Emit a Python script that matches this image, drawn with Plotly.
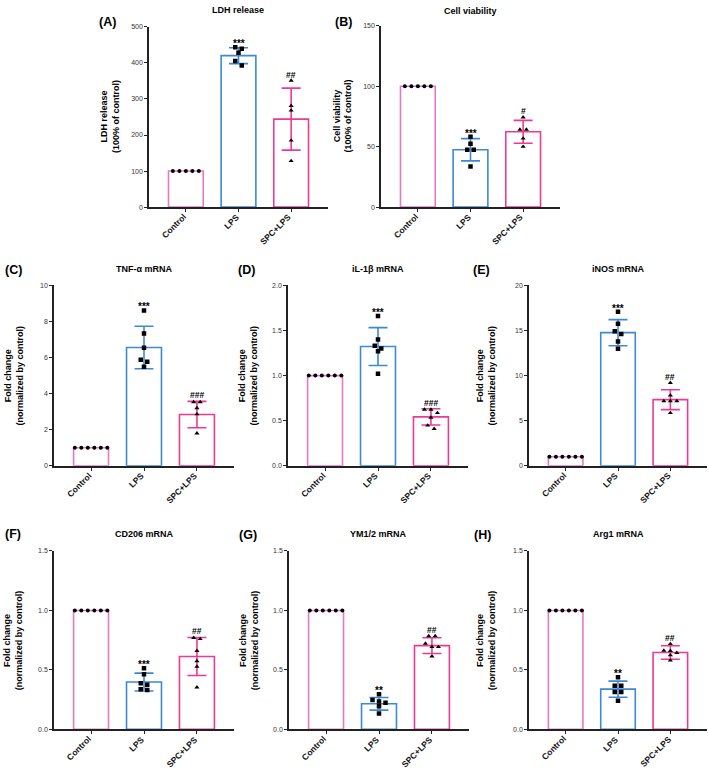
import numpy as np
import plotly.graph_objects as go

groups = ["Control", "LPS", "SPC+LPS"]

# (A) LDH release
ldh_mean = [100, 420, 244]
ldh_sd = [0, 22, 86]
ldh_pts = [[100] * 5, [443, 439, 428, 405, 393], [351, 281, 268, 185, 128]]
ldh_sig = ["", "***", "##"]

# (B) cell viability
via_mean = [100, 47.5, 62.3]
via_sd = [0, 9.2, 9.5]
via_pts = [[100] * 5, [58.2, 52.5, 47.5, 47.5, 33.6], [74.3, 64.2, 64.2, 56.8, 50.0]]
via_sig = ["", "***", "#"]

# (C) TNF-a
tnf_mean = [1, 6.56, 2.84]
tnf_sd = [0, 1.18, 0.73]
tnf_pts = [[1] * 6, [8.61, 7.33, 6.55, 5.88, 5.77, 5.49], [3.53, 3.53, 3.2, 2.86, 1.8]]
tnf_sig = ["", "***", "###"]

# (D) IL-1b
il1_mean = [1, 1.322, 0.542]
il1_sd = [0, 0.21, 0.09]
il1_pts = [[1] * 6, [1.66, 1.40, 1.33, 1.30, 1.27, 1.02], [0.623, 0.623, 0.586, 0.535, 0.447, 0.41]]
il1_sig = ["", "***", "###"]

# (E) iNOS
inos_mean = [1, 14.76, 7.33]
inos_sd = [0, 1.45, 1.1]
inos_pts = [[1] * 6, [17.07, 15.75, 14.91, 14.62, 13.77, 12.97], [9.2, 7.8, 7.18, 7.18, 7.18, 5.86]]
inos_sig = ["", "***", "##"]

# (F) CD206
cd_mean = [1, 0.398, 0.613]
cd_sd = [0, 0.075, 0.16]
cd_pts = [[1] * 6, [0.514, 0.464, 0.387, 0.375, 0.337, 0.331], [0.77, 0.76, 0.66, 0.574, 0.528, 0.354]]
cd_sig = ["", "***", "##"]

# (G) YM1/2
ym_mean = [1, 0.215, 0.704]
ym_sd = [0, 0.053, 0.066]
ym_pts = [[1] * 6, [0.296, 0.246, 0.235, 0.224, 0.195, 0.134], [0.785, 0.785, 0.721, 0.693, 0.693, 0.614]]
ym_sig = ["", "**", "##"]

# (H) Arg1
arg_mean = [1, 0.338, 0.646]
arg_sd = [0, 0.068, 0.057]
arg_pts = [[1] * 6, [0.439, 0.367, 0.367, 0.315, 0.315, 0.24], [0.718, 0.663, 0.66, 0.644, 0.624, 0.58]]
arg_sig = ["", "**", "##"]

W, H = 709, 771
FONT = "Liberation Sans, Arial, sans-serif"
colors = ["#E57AC4", "#3B8AD4", "#EC3A93"]
symbols = ["circle", "square", "triangle-up"]
msizes = [4, 4.5, 4.5]
fc = "Fold change<br>(normalized by control)"

# label, title, ytitle, data, ymax, dtick, tickformat, px box (x0, y0, x1, y1), label x, ytitle x, title y, label y
panels = [
    ("(A)", "LDH release", "LDH release<br>(100% of control)", (ldh_mean, ldh_sd, ldh_pts, ldh_sig),
     500, 100, "", (149, 23, 328, 205), 97, 110, 6, 18),
    ("(B)", "Cell viability", "Cell viability<br>(100% of control)", (via_mean, via_sd, via_pts, via_sig),
     150, 50, "", (381, 22, 560, 205), 333, 343, 7, 18),
    ("(C)", "TNF-α mRNA", fc, (tnf_mean, tnf_sd, tnf_pts, tnf_sig),
     10, 2, "", (54, 284, 234, 466), 3, 14, 267, 268),
    ("(D)", "iL-1β mRNA", fc, (il1_mean, il1_sd, il1_pts, il1_sig),
     2, 0.5, ".1f", (288, 284, 468, 466), 236, 248, 267, 268),
    ("(E)", "iNOS mRNA", fc, (inos_mean, inos_sd, inos_pts, inos_sig),
     20, 5, "", (529, 284, 707, 466), 471, 486, 267, 268),
    ("(F)", "CD206 mRNA", fc, (cd_mean, cd_sd, cd_pts, cd_sig),
     1.5, 0.5, ".1f", (54, 552, 234, 732), 3, 13, 535, 535),
    ("(G)", "YM1/2 mRNA", fc, (ym_mean, ym_sd, ym_pts, ym_sig),
     1.5, 0.5, ".1f", (289, 552, 469, 732), 237, 249, 535, 536),
    ("(H)", "Arg1 mRNA", fc, (arg_mean, arg_sd, arg_pts, arg_sig),
     1.5, 0.5, ".1f", (529, 552, 707, 732), 472, 486, 535, 536),
]

XR = [-0.7, 2.7]


def jitter(vals, px_per_unit, step, gap_px=4.5):
    vals = np.asarray(vals, float)
    order = np.argsort(-vals, kind="stable")
    rows = []
    for i in order:
        if rows and abs(vals[rows[-1][0]] - vals[i]) * px_per_unit < gap_px:
            rows[-1].append(i)
        else:
            rows.append([i])
    offs = np.zeros(len(vals))
    for r in rows:
        n = len(r)
        for k, i in enumerate(r):
            offs[i] = (k - (n - 1) / 2) * step
    return offs


fig = go.Figure()
annotations = []
layout = {}

for n, (lab, title, ytitle, data, ymax, dtick, tfmt, box, labx, ytx, tity, laby) in enumerate(panels, start=1):
    mean, sd, pts, sig = data
    x0, y0, x1, y1 = box
    xa = "x" if n == 1 else f"x{n}"
    ya = "y" if n == 1 else f"y{n}"
    ppu = (y1 - y0) / ymax
    unit_px = (x1 - x0) / (XR[1] - XR[0])
    step = 6.5 / unit_px

    for g in range(3):
        fig.add_trace(go.Bar(
            x=[g], y=[mean[g]], width=0.66, xaxis=xa, yaxis=ya, showlegend=False,
            marker=dict(color="rgba(255,255,255,0)", line=dict(color=colors[g], width=1.6)),
            error_y=dict(type="data", array=[sd[g]], visible=sd[g] > 0,
                         color=colors[g], thickness=1.6, width=9.5),
        ))
    for g in range(3):
        offs = jitter(pts[g], ppu, step)
        fig.add_trace(go.Scatter(
            x=g + offs, y=pts[g], mode="markers", xaxis=xa, yaxis=ya, showlegend=False,
            marker=dict(symbol=symbols[g], size=msizes[g], color="black"),
        ))
        # category labels, rotated so the text ends under its tick
        annotations.append(dict(
            x=g, y=0, xref=xa, yref=ya, text=f"<b>{groups[g]}</b>", showarrow=False,
            textangle=-45, xanchor="right", yanchor="top", xshift=5, yshift=-2,
            font=dict(family=FONT, size=8.5, color="#111"),
        ))
        if sig[g]:
            top = max(max(pts[g]), mean[g] + sd[g])
            star = sig[g].startswith("*")
            annotations.append(dict(
                x=g, y=top, xref=xa, yref=ya, text=f"<b>{sig[g]}</b>", showarrow=False,
                yanchor="bottom", yshift=-4 if star else -1,
                font=dict(family=FONT, size=10 if star else 8.5, color="black"),
            ))

    xkey = "xaxis" if n == 1 else f"xaxis{n}"
    ykey = "yaxis" if n == 1 else f"yaxis{n}"
    layout[xkey] = dict(
        domain=[x0 / W, x1 / W], anchor=ya, range=XR, tickvals=[0, 1, 2],
        showticklabels=False, showline=True, linecolor="#222", linewidth=1.5,
        ticks="outside", ticklen=3, tickcolor="#222", tickwidth=1,
        showgrid=False, zeroline=False, fixedrange=True,
    )
    layout[ykey] = dict(
        domain=[1 - y1 / H, 1 - y0 / H], anchor=xa, range=[0, ymax], dtick=dtick,
        tickformat=tfmt, showline=True, linecolor="#222", linewidth=1.5,
        ticks="outside", ticklen=3, tickcolor="#222", tickwidth=1,
        showgrid=False, zeroline=False, tickfont=dict(family=FONT, size=7, color="#333"),
    )

    annotations.append(dict(
        x=(x0 + x1) / 2 / W, y=1 - tity / H, xref="paper", yref="paper", text=f"<b>{title}</b>",
        showarrow=False, xanchor="center", yanchor="middle",
        font=dict(family=FONT, size=9, color="black"),
    ))
    annotations.append(dict(
        x=labx / W, y=1 - laby / H, xref="paper", yref="paper", text=f"<b>{lab}</b>",
        showarrow=False, xanchor="left", yanchor="middle",
        font=dict(family=FONT, size=12.5, color="black"),
    ))
    annotations.append(dict(
        x=ytx / W, y=1 - (y0 + y1) / 2 / H, xref="paper", yref="paper", text=f"<b>{ytitle}</b>",
        showarrow=False, xanchor="center", yanchor="middle", textangle=-90,
        font=dict(family=FONT, size=9, color="black"),
    ))

fig.update_layout(
    width=W, height=H, margin=dict(l=0, r=0, t=0, b=0),
    paper_bgcolor="white", plot_bgcolor="white", barmode="overlay",
    annotations=annotations, **layout,
)

# drop the default page margin so the figure sits at the window's corner
fig.write_html("out.html", config={"displayModeBar": False},
               post_script="document.body.style.margin='0';")
